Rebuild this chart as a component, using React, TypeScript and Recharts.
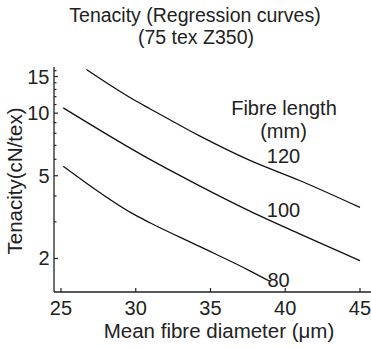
import { LineChart, Line, XAxis, YAxis } from 'recharts';

// fibre diameter (um) / tenacity (cN/tex)
const diameter120 = [26.7, 29.95, 30.95, 34.3, 37.6, 41, 45];
const tenacity120 = [16.2, 11.5, 10.5, 7.75, 5.94, 4.73, 3.52];

const diameter100 = [25.15, 30.95, 34.3, 37.6, 41, 45];
const tenacity100 = [10.6, 5.99, 4.46, 3.39, 2.62, 1.95];

const diameter80 = [25.15, 29.95, 30.95, 34.3, 37.6, 39];
const tenacity80 = [5.56, 3.24, 2.97, 2.28, 1.75, 1.55];

const xTicks = [25, 30, 35, 40, 45];
const yTicks = [2, 3, 4, 5, 6, 7, 8, 9, 10, 11, 12, 13, 14, 15, 16];
const yLabelled = [2, 5, 10, 15];

const FONT = '"Liberation Sans", Arial, Helvetica, sans-serif';
const INK = '#222';

const toRows = (xs: number[], ys: number[]) => xs.map((d, i) => ({ d, t: ys[i] }));

const series = [
  { name: '120', data: toRows(diameter120, tenacity120) },
  { name: '100', data: toRows(diameter100, tenacity100) },
  { name: '80', data: toRows(diameter80, tenacity80) },
];

function XTick(props: any) {
  const { x, y, payload } = props;
  return (
    <g>
      <line x1={x} x2={x} y1={y} y2={y - 4} stroke={INK} strokeWidth={1.2} />
      <text x={x} y={y + 23} textAnchor="middle" fontSize={20} fill={INK} fontFamily={FONT}>
        {payload.value}
      </text>
    </g>
  );
}

function YTick(props: any) {
  const { x, y, payload } = props;
  const major = yLabelled.includes(payload.value);
  return (
    <g>
      <line x1={x} x2={x + (major ? 4 : 2.5)} y1={y} y2={y} stroke={INK} strokeWidth={1.2} />
      {major && (
        <text x={x - 4.5} y={y + 7} textAnchor="end" fontSize={20} fill={INK} fontFamily={FONT}>
          {payload.value}
        </text>
      )}
    </g>
  );
}

export default function App() {
  return (
    <div style={{ position: 'absolute', left: 0, top: 0, width: 371, height: 348, fontFamily: FONT }}>
      <LineChart width={371} height={348} margin={{ top: 67, right: 0, bottom: 0, left: 0 }}>
        <XAxis
          type="number"
          dataKey="d"
          domain={[24.532, 45.736]}
          ticks={xTicks}
          interval={0}
          allowDataOverflow
          height={56}
          tickSize={0}
          tickMargin={0}
          tickLine={false}
          axisLine={{ stroke: INK, strokeWidth: 1.3 }}
          tick={<XTick />}
        />
        <YAxis
          type="number"
          scale="log"
          domain={[1.38, 16.67]}
          ticks={yTicks}
          interval={0}
          allowDataOverflow
          width={54}
          tickSize={0}
          tickMargin={0}
          tickLine={false}
          axisLine={{ stroke: INK, strokeWidth: 1.3 }}
          tick={<YTick />}
        />
        {series.map((s) => (
          <Line
            key={s.name}
            data={s.data}
            dataKey="t"
            type="monotone"
            stroke="#111"
            strokeWidth={1.3}
            dot={false}
            isAnimationActive={false}
          />
        ))}
      </LineChart>
      <svg
        width={371}
        height={348}
        style={{ position: 'absolute', left: 0, top: 0, pointerEvents: 'none' }}
        fontFamily={FONT}
        fill={INK}
      >
        <text x={195} y={22} textAnchor="middle" fontSize={19.5}>Tenacity (Regression curves)</text>
        <text x={196} y={44} textAnchor="middle" fontSize={19.5}>(75 tex Z350)</text>
        <text x={21.5} y={181} textAnchor="middle" fontSize={20.5} transform="rotate(-90 21.5 181)">
          Tenacity(cN/tex)
        </text>
        <text x={219} y={338} textAnchor="middle" fontSize={20.5}>Mean fibre diameter (μm)</text>
        <text x={284} y={115} textAnchor="middle" fontSize={20}>Fibre length</text>
        <text x={283.5} y={138} textAnchor="middle" fontSize={20}>(mm)</text>
        <text x={283.5} y={163} textAnchor="middle" fontSize={20}>120</text>
        <text x={283.5} y={216.5} textAnchor="middle" fontSize={20}>100</text>
        <text x={278.5} y={286.5} textAnchor="middle" fontSize={20}>80</text>
      </svg>
    </div>
  );
}
